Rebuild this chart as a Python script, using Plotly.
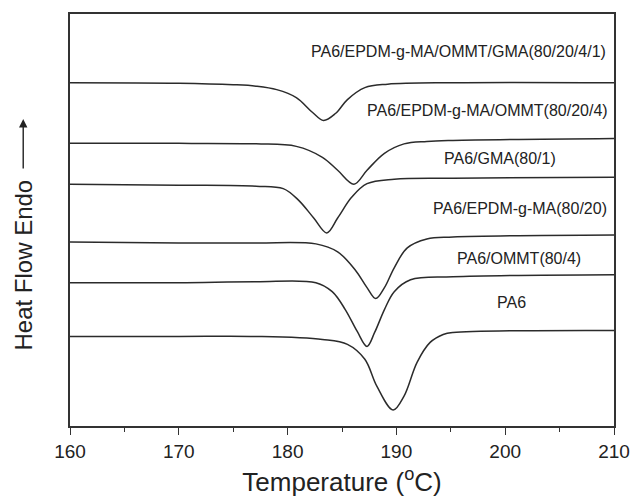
import plotly.graph_objects as go

# ---- data (temperature in °C, heat flow in arbitrary offset units) ----
names = [
    "PA6/EPDM-g-MA/OMMT/GMA(80/20/4/1)",
    "PA6/EPDM-g-MA/OMMT(80/20/4)",
    "PA6/GMA(80/1)",
    "PA6/EPDM-g-MA(80/20)",
    "PA6/OMMT(80/4)",
    "PA6",
]

temp_a = [160, 170, 175, 177.1, 179.0, 180.8, 182.3, 183.3, 184.4, 185.5, 187.1, 189.2, 195.2, 210]
flow_a = [345, 344.5, 343, 341.5, 338, 330, 315, 307, 314, 328, 340, 343.5, 345, 345]

temp_b = [160, 170, 177.1, 180.8, 183.2, 184.6, 186.1, 187.3, 188.9, 190.7, 192.8, 195.2, 210]
flow_b = [284, 284, 283.5, 281, 270, 257, 243, 257, 274, 283.5, 286, 287, 289]

temp_c = [160, 170, 177.1, 179.6, 181.0, 182.4, 183.6, 184.6, 185.9, 187.3, 189.8, 195.2, 210]
flow_c = [243, 242, 241, 238.5, 227, 209, 194, 209, 230, 243.5, 248, 249, 250]

temp_d = [160, 170, 177.1, 182.6, 184.6, 186.2, 187.3, 188.1, 188.9, 189.8, 191.0, 192.8, 195.2, 210]
flow_d = [185, 184, 184, 183, 175, 157, 139, 128, 139, 159, 179, 188, 190, 192]

temp_e = [160, 170, 177.1, 182.6, 184.1, 185.3, 186.4, 187.3, 188.0, 188.9, 189.8, 191.3, 195.2, 210]
flow_e = [144, 144, 145, 144, 135, 117, 95, 80, 94, 117, 135, 147, 150, 152]

temp_f = [160, 170, 177.1, 183.2, 185.5, 187.1, 188.2, 189.7, 190.7, 191.9, 193.1, 194.3, 195.2, 210]
flow_f = [90, 90, 90, 87, 82, 67, 40, 16, 30, 64, 84, 92, 94, 96]

# label positions (°C, flow units)
label_x = [195.7, 198.4, 199.5, 201.4, 201.3, 200.6]
label_y = [376, 317, 269, 219, 168, 124]

x_ticks = [160, 170, 180, 190, 200, 210]

temps = [temp_a, temp_b, temp_c, temp_d, temp_e, temp_f]
flows = [flow_a, flow_b, flow_c, flow_d, flow_e, flow_f]

FONT = "Liberation Sans, Arial, sans-serif"
LINE = "#2b2b2b"

fig = go.Figure()
for nm, t, f in zip(names, temps, flows):
    fig.add_trace(go.Scatter(
        x=t, y=f, mode="lines", name=nm,
        line=dict(color=LINE, width=1.5, shape="spline", smoothing=1.0),
        showlegend=False,
    ))

for nm, lx, ly in zip(names, label_x, label_y):
    fig.add_annotation(x=lx, y=ly, xref="x", yref="y", text=nm, showarrow=False,
                       font=dict(family=FONT, size=16, color="#222"),
                       xanchor="center", yanchor="middle")

# y-axis title with arrow
fig.add_annotation(x=-0.086, y=0.39, xref="paper", yref="paper", text="Heat Flow Endo",
                   textangle=-90, showarrow=False,
                   font=dict(family=FONT, size=24, color="#222"),
                   xanchor="center", yanchor="middle")
fig.add_annotation(x=-0.086, y=0.745, xref="paper", yref="paper", text=" ",
                   showarrow=True, ax=0, ay=52, axref="pixel", ayref="pixel",
                   arrowhead=2, arrowsize=1.2, arrowwidth=1.4, arrowcolor="#222",
                   font=dict(size=2))

fig.update_layout(
    width=642, height=504,
    margin=dict(l=70, r=16, t=13, b=77),
    paper_bgcolor="white", plot_bgcolor="white",
    font=dict(family=FONT, color="#222"),
)

fig.update_xaxes(
    range=[160, 210], tickvals=x_ticks, ticktext=[str(v) for v in x_ticks],
    ticks="outside", ticklen=7, tickwidth=1.2, tickcolor="#333",
    minor=dict(dtick=5, tick0=160, ticks="outside", ticklen=4, tickwidth=1.2, tickcolor="#333"),
    showline=True, linecolor="#333", linewidth=1.6, mirror=True,
    showgrid=False, zeroline=False,
    tickfont=dict(family=FONT, size=19, color="#222"),
    title=dict(text="Temperature (<sup>o</sup>C)", font=dict(family=FONT, size=26, color="#222"), standoff=12),
)
fig.update_yaxes(
    range=[0, 414], showticklabels=False, ticks="",
    showline=True, linecolor="#333", linewidth=1.6, mirror=True,
    showgrid=False, zeroline=False,
)

fig.write_html("out.html")
